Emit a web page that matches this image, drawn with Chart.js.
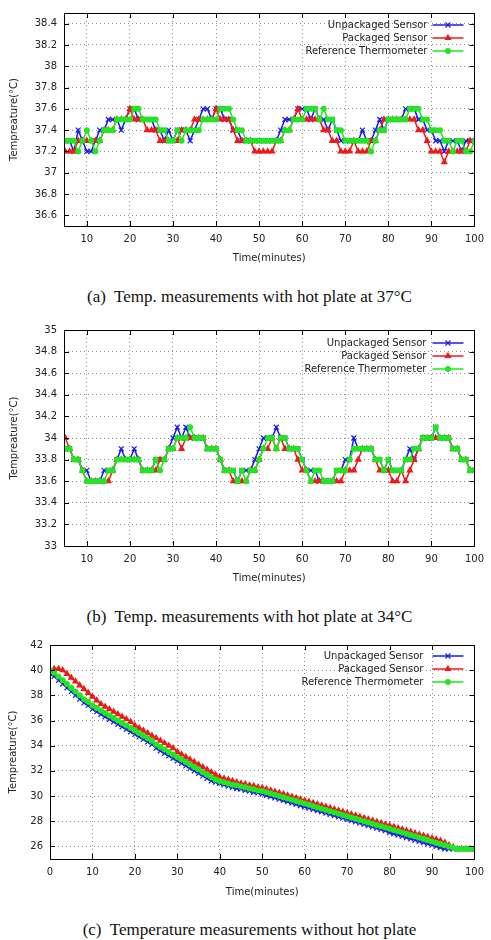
<!DOCTYPE html>
<html>
<head>
<meta charset="utf-8">
<script src="https://cdn.jsdelivr.net/npm/chart.js@4.4.0/dist/chart.umd.min.js"></script>
<style>
  body { margin: 0; background: #fff; width: 491px; height: 940px; position: relative; overflow: hidden; }
  .panel { position: absolute; left: 0; width: 491px; }
  .caption { position: absolute; left: 4px; width: 491px; text-align: center; font-family: 'Liberation Serif', 'Times New Roman', serif; font-size: 17px; color: #111; line-height: 20px; white-space: pre; }
</style>
</head>
<body>
<div class="panel" style="top:0"><canvas id="chartA" width="491" height="269"></canvas></div>
<div class="caption" style="top:287px">(a)  Temp. measurements with hot plate at 37°C</div>
<div class="panel" style="top:317px"><canvas id="chartB" width="491" height="272"></canvas></div>
<div class="caption" style="top:607px">(b)  Temp. measurements with hot plate at 34°C</div>
<div class="panel" style="top:632px"><canvas id="chartC" width="491" height="271"></canvas></div>
<div class="caption" style="top:920px">(c)  Temperature measurements without hot plate</div>
<script>
// ---- data ----
const seriesNames = ['Unpackaged Sensor', 'Packaged Sensor', 'Reference Thermometer'];

const minutesAB = [4, 5, 6, 7, 8, 9, 10, 11, 12, 13, 14, 15, 16, 17, 18, 19, 20, 21, 22, 23, 24, 25, 26, 27, 28, 29,
  30, 31, 32, 33, 34, 35, 36, 37, 38, 39, 40, 41, 42, 43, 44, 45, 46, 47, 48, 49, 50, 51, 52, 53, 54, 55, 56, 57, 58, 59,
  60, 61, 62, 63, 64, 65, 66, 67, 68, 69, 70, 71, 72, 73, 74, 75, 76, 77, 78, 79, 80, 81, 82, 83, 84, 85, 86, 87, 88, 89,
  90, 91, 92, 93, 94, 95, 96, 97, 98, 99, 100];

const minutesC = [0, 1, 2, 3, 4, 5, 6, 7, 8, 9, 10, 11, 12, 13, 14, 15, 16, 17, 18, 19, 20, 21, 22, 23, 24, 25, 26, 27, 28, 29,
  30, 31, 32, 33, 34, 35, 36, 37, 38, 39, 40, 41, 42, 43, 44, 45, 46, 47, 48, 49, 50, 51, 52, 53, 54, 55, 56, 57, 58, 59,
  60, 61, 62, 63, 64, 65, 66, 67, 68, 69, 70, 71, 72, 73, 74, 75, 76, 77, 78, 79, 80, 81, 82, 83, 84, 85, 86, 87, 88, 89,
  90, 91, 92, 93, 94, 95, 96, 97, 98, 99, 100];

// (a) hot plate at 37°C
const unpackedA = [37.3, 37.3, 37.3, 37.2, 37.4, 37.3, 37.2, 37.2, 37.3, 37.4, 37.4, 37.5, 37.5, 37.5, 37.4, 37.5,
  37.6, 37.6, 37.5, 37.5, 37.5, 37.5, 37.4, 37.4, 37.3, 37.4, 37.3, 37.4, 37.4, 37.4, 37.3, 37.4, 37.5, 37.6, 37.6,
  37.5, 37.6, 37.6, 37.5, 37.5, 37.4, 37.4, 37.3, 37.3, 37.3, 37.3, 37.3, 37.3, 37.3, 37.3, 37.3, 37.4, 37.5, 37.5,
  37.5, 37.6, 37.6, 37.6, 37.5, 37.6, 37.5, 37.5, 37.4, 37.5, 37.4, 37.3, 37.3, 37.3, 37.3, 37.3, 37.4, 37.3, 37.3,
  37.4, 37.5, 37.4, 37.5, 37.5, 37.5, 37.5, 37.6, 37.6, 37.6, 37.5, 37.5, 37.4, 37.4, 37.3, 37.3, 37.2, 37.3, 37.3,
  37.3, 37.2, 37.3, 37.3, 37.3];
const packedA = [37.2, 37.2, 37.2, 37.2, 37.3, 37.3, 37.3, 37.3, 37.3, 37.3, 37.4, 37.4, 37.4, 37.5, 37.5, 37.5,
  37.6, 37.5, 37.5, 37.5, 37.4, 37.4, 37.4, 37.3, 37.3, 37.3, 37.3, 37.3, 37.4, 37.4, 37.4, 37.5, 37.5, 37.5, 37.5,
  37.5, 37.6, 37.5, 37.5, 37.5, 37.4, 37.3, 37.3, 37.3, 37.3, 37.2, 37.2, 37.2, 37.2, 37.2, 37.3, 37.3, 37.4, 37.4,
  37.5, 37.6, 37.5, 37.5, 37.5, 37.5, 37.5, 37.4, 37.4, 37.3, 37.3, 37.2, 37.2, 37.2, 37.3, 37.2, 37.2, 37.2, 37.3,
  37.3, 37.4, 37.5, 37.5, 37.5, 37.5, 37.5, 37.5, 37.5, 37.5, 37.4, 37.4, 37.3, 37.2, 37.2, 37.2, 37.1, 37.2, 37.2,
  37.2, 37.2, 37.2, 37.3, 37.3];
const referenceA = [37.3, 37.3, 37.3, 37.3, 37.2, 37.3, 37.4, 37.3, 37.2, 37.3, 37.4, 37.4, 37.4, 37.5, 37.5, 37.5,
  37.5, 37.6, 37.6, 37.5, 37.5, 37.5, 37.5, 37.4, 37.4, 37.3, 37.3, 37.4, 37.3, 37.4, 37.4, 37.4, 37.4, 37.5, 37.5,
  37.5, 37.5, 37.6, 37.6, 37.6, 37.5, 37.4, 37.4, 37.3, 37.3, 37.3, 37.3, 37.3, 37.3, 37.3, 37.3, 37.3, 37.4, 37.4,
  37.5, 37.5, 37.5, 37.6, 37.6, 37.6, 37.5, 37.6, 37.5, 37.5, 37.4, 37.4, 37.3, 37.3, 37.3, 37.3, 37.3, 37.3, 37.2,
  37.3, 37.4, 37.4, 37.5, 37.5, 37.5, 37.5, 37.5, 37.6, 37.6, 37.6, 37.5, 37.5, 37.4, 37.4, 37.4, 37.3, 37.3, 37.2,
  37.3, 37.3, 37.2, 37.2, 37.3];

// (b) hot plate at 34°C
const unpackedB = [33.9, 33.9, 33.9, 33.8, 33.8, 33.7, 33.7, 33.6, 33.6, 33.6, 33.7, 33.7, 33.7, 33.8, 33.9, 33.8,
  33.8, 33.9, 33.8, 33.7, 33.7, 33.7, 33.8, 33.8, 33.8, 33.9, 34.0, 34.1, 34.0, 34.1, 34.0, 34.0, 34.0, 34.0, 33.9,
  33.9, 33.9, 33.8, 33.7, 33.7, 33.7, 33.6, 33.7, 33.7, 33.7, 33.8, 33.9, 34.0, 34.0, 34.0, 34.1, 34.0, 34.0, 33.9,
  33.9, 33.9, 33.8, 33.7, 33.7, 33.7, 33.6, 33.6, 33.6, 33.6, 33.7, 33.7, 33.8, 33.8, 34.0, 33.9, 33.9, 33.9, 33.9,
  33.8, 33.8, 33.7, 33.8, 33.7, 33.7, 33.7, 33.8, 33.9, 33.8, 33.9, 34.0, 34.0, 34.0, 34.1, 34.0, 34.0, 34.0, 33.9,
  33.9, 33.8, 33.8, 33.7, 33.7];
const packedB = [34.0, 34.0, 33.9, 33.8, 33.8, 33.7, 33.6, 33.6, 33.6, 33.6, 33.6, 33.6, 33.7, 33.8, 33.8, 33.8,
  33.8, 33.8, 33.8, 33.7, 33.7, 33.7, 33.7, 33.8, 33.8, 33.9, 33.9, 34.0, 33.9, 34.0, 34.0, 34.0, 34.0, 34.0, 33.9,
  33.9, 33.9, 33.8, 33.7, 33.7, 33.6, 33.6, 33.6, 33.6, 33.7, 33.7, 33.8, 33.9, 33.9, 34.0, 33.9, 34.0, 33.9, 33.9,
  33.9, 33.8, 33.7, 33.7, 33.6, 33.6, 33.6, 33.6, 33.6, 33.6, 33.6, 33.6, 33.7, 33.7, 33.7, 33.8, 33.9, 33.9, 33.9,
  33.8, 33.7, 33.7, 33.7, 33.6, 33.6, 33.7, 33.6, 33.7, 33.8, 33.9, 34.0, 34.0, 34.0, 34.0, 34.0, 34.0, 34.0, 33.9,
  33.9, 33.8, 33.8, 33.7, 33.7];
const referenceB = [33.9, 33.9, 33.9, 33.8, 33.8, 33.7, 33.6, 33.6, 33.6, 33.6, 33.6, 33.7, 33.7, 33.8, 33.8, 33.8,
  33.8, 33.8, 33.8, 33.7, 33.7, 33.7, 33.8, 33.7, 33.8, 33.9, 33.9, 34.0, 34.0, 34.0, 34.1, 34.0, 34.0, 34.0, 33.9,
  33.9, 33.9, 33.8, 33.7, 33.7, 33.7, 33.6, 33.7, 33.6, 33.7, 33.7, 33.8, 33.9, 34.0, 34.0, 33.9, 34.0, 34.0, 33.9,
  33.9, 33.9, 33.8, 33.7, 33.6, 33.7, 33.7, 33.6, 33.6, 33.6, 33.7, 33.7, 33.7, 33.8, 33.9, 33.9, 33.9, 33.9, 33.9,
  33.8, 33.8, 33.7, 33.8, 33.7, 33.7, 33.7, 33.8, 33.8, 33.9, 33.9, 34.0, 34.0, 34.0, 34.1, 34.0, 34.0, 34.0, 33.9,
  33.9, 33.8, 33.8, 33.7, 33.7];

// (c) without hot plate
const unpackedC = [39.7, 39.5, 39.2, 38.9, 38.6, 38.3, 38.0, 37.7, 37.4, 37.2, 36.9, 36.7, 36.5, 36.3, 36.1, 35.9,
  35.7, 35.5, 35.3, 35.1, 34.9, 34.7, 34.5, 34.3, 34.1, 33.8, 33.6, 33.4, 33.2, 33.0, 32.8, 32.6, 32.4, 32.2, 32.0,
  31.8, 31.6, 31.4, 31.2, 31.1, 31.0, 30.9, 30.8, 30.7, 30.6, 30.55, 30.45, 30.4, 30.3, 30.25, 30.15, 30.05, 29.95,
  29.85, 29.75, 29.65, 29.55, 29.45, 29.35, 29.25, 29.15, 29.05, 28.95, 28.85, 28.75, 28.65, 28.55, 28.45, 28.35,
  28.25, 28.15, 28.05, 27.95, 27.85, 27.75, 27.65, 27.55, 27.45, 27.35, 27.25, 27.1, 27.0, 26.9, 26.8, 26.7, 26.6,
  26.5, 26.4, 26.3, 26.2, 26.1, 26.0, 25.9, 25.8, 25.8, 25.8, 25.8, 25.8, 25.8, 25.8, 25.8];
const packedC = [40.0, 40.1, 40.1, 40.0, 39.7, 39.4, 39.1, 38.8, 38.5, 38.2, 37.9, 37.6, 37.3, 37.1, 36.9, 36.7,
  36.5, 36.3, 36.1, 35.9, 35.6, 35.4, 35.2, 35.0, 34.8, 34.6, 34.4, 34.2, 34.0, 33.8, 33.5, 33.3, 33.1, 32.9, 32.7,
  32.5, 32.3, 32.1, 31.9, 31.7, 31.5, 31.4, 31.3, 31.2, 31.1, 31.0, 30.95, 30.85, 30.8, 30.7, 30.65, 30.55, 30.45,
  30.35, 30.25, 30.15, 30.05, 29.95, 29.85, 29.75, 29.65, 29.55, 29.45, 29.35, 29.25, 29.15, 29.05, 28.95, 28.85,
  28.75, 28.65, 28.55, 28.45, 28.35, 28.25, 28.15, 28.05, 27.95, 27.85, 27.75, 27.65, 27.55, 27.45, 27.35, 27.25,
  27.15, 27.05, 26.95, 26.85, 26.75, 26.65, 26.55, 26.45, 26.3, 26.1, 25.95, 25.8, 25.8, 25.8, 25.8, 25.8];
const referenceC = [40.0, 39.8, 39.5, 39.2, 38.9, 38.6, 38.3, 38.0, 37.7, 37.5, 37.2, 37.0, 36.8, 36.6, 36.4, 36.2,
  36.0, 35.8, 35.6, 35.4, 35.2, 35.0, 34.8, 34.6, 34.4, 34.1, 33.9, 33.7, 33.5, 33.3, 33.1, 32.9, 32.7, 32.5, 32.3,
  32.1, 31.9, 31.7, 31.5, 31.3, 31.2, 31.1, 31.0, 30.9, 30.85, 30.75, 30.7, 30.6, 30.55, 30.45, 30.4, 30.3, 30.2,
  30.1, 30.0, 29.9, 29.8, 29.7, 29.6, 29.5, 29.4, 29.3, 29.2, 29.1, 29.0, 28.9, 28.8, 28.7, 28.6, 28.5, 28.4, 28.3,
  28.2, 28.1, 28.0, 27.9, 27.8, 27.7, 27.6, 27.5, 27.4, 27.3, 27.2, 27.1, 27.0, 26.9, 26.8, 26.7, 26.6, 26.5, 26.4,
  26.3, 26.2, 26.1, 26.0, 25.9, 25.8, 25.8, 25.8, 25.8, 25.8];

// ticks
const xTicksAB = [10, 20, 30, 40, 50, 60, 70, 80, 90, 100];
const xTicksC = [0, 10, 20, 30, 40, 50, 60, 70, 80, 90, 100];
const yTicksA = [36.6, 36.8, 37, 37.2, 37.4, 37.6, 37.8, 38, 38.2, 38.4];
const yTicksB = [33, 33.2, 33.4, 33.6, 33.8, 34, 34.2, 34.4, 34.6, 34.8, 35];
const yTicksC = [26, 28, 30, 32, 34, 36, 38, 40, 42];

// ---- styling ----
const FONT = "'DejaVu Sans', Verdana, sans-serif";
const TEXT = '#222';
const W = 491;

const styles = [
  { color: '#1a1aee', pointStyle: 'crossRot', pointRadius: 3.5, fill: 'transparent', order: 2 },
  { color: '#ee1a1a', pointStyle: 'triangle', pointRadius: 3, fill: '#ee1a1a', order: 1 },
  { color: '#22e622', pointStyle: 'circle', pointRadius: 2.4, fill: '#22e622', order: 0 }
];

function pairs(xs, ys) {
  return ys.map((y, i) => ({ x: xs[i], y }));
}

const framePlugin = {
  id: 'frame',
  afterDatasetsDraw(chart) {
    const { ctx, chartArea: a, scales: { x, y } } = chart;
    ctx.save();
    ctx.strokeStyle = '#000';
    ctx.lineWidth = 1;
    ctx.beginPath();
    x.ticks.forEach(t => {
      const px = Math.round(x.getPixelForValue(t.value)) + 0.5;
      if (px < a.left + 2 || px > a.right - 2) return;
      ctx.moveTo(px, a.bottom); ctx.lineTo(px, a.bottom - 5);
      ctx.moveTo(px, a.top); ctx.lineTo(px, a.top + 5);
    });
    y.ticks.forEach(t => {
      const py = Math.round(y.getPixelForValue(t.value)) + 0.5;
      if (py < a.top + 2 || py > a.bottom - 2) return;
      ctx.moveTo(a.left, py); ctx.lineTo(a.left + 5, py);
      ctx.moveTo(a.right, py); ctx.lineTo(a.right - 5, py);
    });
    ctx.stroke();
    ctx.strokeRect(Math.round(a.left) + 0.5, Math.round(a.top) + 0.5,
      Math.round(a.right - a.left), Math.round(a.bottom - a.top));
    ctx.restore();
  }
};

const keyPlugin = {
  id: 'key',
  afterDraw(chart) {
    const { ctx, chartArea: a } = chart;
    const k = chart.options.plugins.key;
    ctx.save();
    ctx.font = '10px ' + FONT;
    ctx.textAlign = 'right';
    ctx.textBaseline = 'middle';
    chart.data.datasets.forEach((ds, i) => {
      const yy = a.top + k.top + i * 13;
      ctx.fillStyle = TEXT;
      ctx.fillText(ds.label, a.right - k.textGap, yy);
      const x0 = a.right - 42, x1 = a.right - 11;
      ctx.strokeStyle = ds.borderColor;
      ctx.lineWidth = 1.5;
      ctx.beginPath(); ctx.moveTo(x0, yy); ctx.lineTo(x1, yy); ctx.stroke();
      ctx.fillStyle = ds.pointBackgroundColor;
      ctx.lineWidth = 1.2;
      Chart.helpers.drawPoint(ctx, {
        pointStyle: ds.pointStyle, radius: ds.pointRadius, borderWidth: 1.2, rotation: 0
      }, (x0 + x1) / 2, yy);
    });
    ctx.restore();
  }
};

function makeChart(id, cfg) {
  const canvas = document.getElementById(id);
  const H = canvas.height;
  const area = cfg.area;
  const tickFont = { family: FONT, size: 10 };
  const datasets = cfg.series.map((ys, i) => ({
    label: seriesNames[i],
    data: pairs(cfg.minutes, ys),
    borderColor: styles[i].color,
    backgroundColor: styles[i].fill,
    pointBackgroundColor: styles[i].fill,
    pointBorderColor: styles[i].color,
    pointStyle: styles[i].pointStyle,
    pointRadius: styles[i].pointRadius,
    pointBorderWidth: 1.2,
    borderWidth: 1.5,
    tension: 0,
    order: styles[i].order
  }));

  return new Chart(canvas, {
    type: 'line',
    data: { datasets },
    options: {
      responsive: false,
      animation: false,
      events: [],
      layout: { padding: { top: area.top, right: W - area.right, left: 0, bottom: 0 } },
      plugins: {
        legend: { display: false },
        tooltip: { enabled: false },
        key: cfg.key
      },
      scales: {
        x: {
          type: 'linear',
          min: cfg.xMin,
          max: 100,
          afterBuildTicks: s => { s.ticks = cfg.xTicks.map(v => ({ value: v })); },
          afterFit: s => { s.height = H - area.bottom; },
          grid: { color: '#8f8f8f', lineWidth: 1, drawTicks: false },
          border: { display: false, dash: [1, 3] },
          ticks: { padding: 7, color: TEXT, font: tickFont, maxRotation: 0, autoSkip: false, callback: v => String(v) },
          title: { display: true, text: 'Time(minutes)', color: TEXT, font: tickFont, padding: { top: 0, bottom: 5 } }
        },
        y: {
          type: 'linear',
          min: cfg.yMin,
          max: cfg.yMax,
          afterBuildTicks: s => { s.ticks = cfg.yTicks.map(v => ({ value: v })); },
          afterFit: s => { s.width = area.left; },
          grid: { color: '#8f8f8f', lineWidth: 1, drawTicks: false },
          border: { display: false, dash: [1, 3] },
          ticks: { padding: 7, color: TEXT, font: tickFont, autoSkip: false, callback: v => String(v) },
          title: { display: true, text: 'Tempreature(°C)', color: TEXT, font: tickFont, padding: { top: cfg.yTitlePad, bottom: 0 } }
        }
      }
    },
    plugins: [framePlugin, keyPlugin]
  });
}

makeChart('chartA', {
  minutes: minutesAB,
  series: [unpackedA, packedA, referenceA],
  xMin: 4.7, xTicks: xTicksAB,
  yMin: 36.5, yMax: 38.5, yTicks: yTicksA,
  area: { left: 64, top: 11, right: 479, bottom: 226 },
  yTitlePad: 8,
  key: { top: 12, textGap: 47 }
});

makeChart('chartB', {
  minutes: minutesAB,
  series: [unpackedB, packedB, referenceB],
  xMin: 4.7, xTicks: xTicksAB,
  yMin: 33, yMax: 35, yTicks: yTicksB,
  area: { left: 64, top: 11, right: 482, bottom: 229 },
  yTitlePad: 8,
  key: { top: 13, textGap: 48 }
});

makeChart('chartC', {
  minutes: minutesC,
  series: [unpackedC, packedC, referenceC],
  xMin: 0, xTicks: xTicksC,
  yMin: 25, yMax: 42, yTicks: yTicksC,
  area: { left: 50, top: 11, right: 482, bottom: 227 },
  yTitlePad: 7,
  key: { top: 11, textGap: 51 }
});
</script>
</body>
</html>
